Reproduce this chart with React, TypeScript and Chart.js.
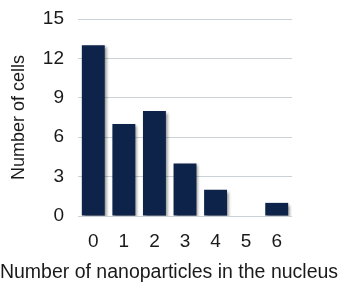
import React, { useEffect, useRef } from "react";
import { Chart, registerables } from "chart.js";

Chart.register(...registerables);

const categories = ["0", "1", "2", "3", "4", "5", "6"];
const cellCounts = [13, 7, 8, 4, 2, 0, 1];
const yTicks = [0, 3, 6, 9, 12, 15];
const xTitle = "Number of nanoparticles in the nucleus";
const yTitle = "Number of cells";

const FONT = "'Liberation Sans', Arial, sans-serif";
const TEXT = "#1a1a1a";

const shadowPlugin = {
  id: "barShadow",
  beforeDatasetsDraw(chart: any) {
    const ctx = chart.ctx;
    ctx.save();
    ctx.shadowColor = "rgba(0,0,0,0.45)";
    ctx.shadowBlur = 3;
    ctx.shadowOffsetX = 2;
    ctx.shadowOffsetY = 2;
  },
  afterDatasetsDraw(chart: any) {
    chart.ctx.restore();
  },
};

const xTitlePlugin = {
  id: "xTitleFull",
  afterDraw(chart: any) {
    const ctx = chart.ctx;
    ctx.save();
    ctx.font = `19.5px ${FONT}`;
    ctx.fillStyle = TEXT;
    ctx.textAlign = "center";
    ctx.textBaseline = "middle";
    ctx.fillText(xTitle, chart.width / 2, 273);
    ctx.restore();
  },
};

export default function App() {
  const ref = useRef<HTMLCanvasElement | null>(null);
  useEffect(() => {
    document.body.style.margin = "0";
    const canvas = ref.current!;
    const chart = new Chart(canvas, {
      type: "bar",
      data: {
        labels: categories,
        datasets: [
          {
            data: cellCounts,
            backgroundColor: "#0d2349",
            borderWidth: 0,
            barPercentage: 0.75,
            categoryPercentage: 1,
          },
        ],
      },
      options: {
        animation: false,
        responsive: false,
        maintainAspectRatio: false,
        layout: { padding: { left: 8, right: 46, top: 19, bottom: 0 } },
        plugins: { legend: { display: false }, tooltip: { enabled: false } },
        scales: {
          x: {
            grid: { display: false },
            border: { display: false },
            ticks: { color: TEXT, font: { family: FONT, size: 19 }, padding: 6 },
            title: { display: false },
            afterFit(scale: any) {
              scale.height = 68;
            },
          },
          y: {
            min: 0,
            max: 15,
            afterBuildTicks(scale: any) {
              scale.ticks = yTicks.map((v) => ({ value: v }));
            },
            grid: { color: "#c9d1d9", drawTicks: false, lineWidth: 1 },
            border: { display: false },
            ticks: { color: TEXT, font: { family: FONT, size: 19 }, padding: 14 },
            title: {
              display: true,
              text: yTitle,
              color: TEXT,
              font: { family: FONT, size: 18 },
              padding: { top: 0, bottom: 6 },
            },
            afterFit(scale: any) {
              scale.width = 70;
              scale.paddingTop = 0;
              scale.paddingBottom = 0;
            },
          },
        },
      },
      plugins: [shadowPlugin, xTitlePlugin],
    });
    return () => chart.destroy();
  }, []);
  return (
    <div style={{ width: 338, height: 284 }}>
      <canvas ref={ref} width={338} height={284} style={{ width: 338, height: 284 }} />
    </div>
  );
}
